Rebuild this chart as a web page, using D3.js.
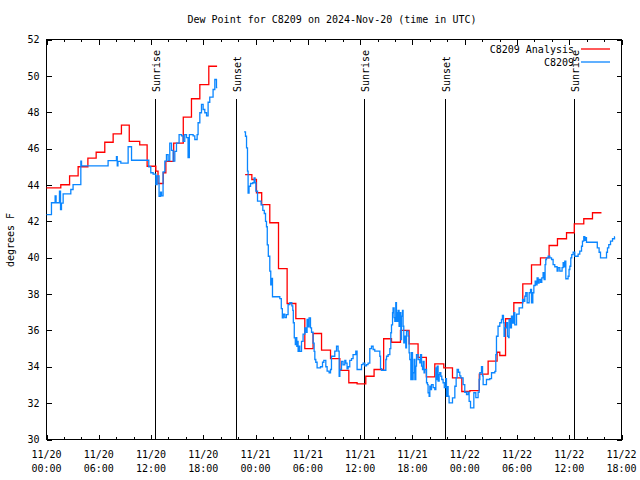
<!DOCTYPE html>
<html><head><meta charset="utf-8">
<script src="https://cdn.jsdelivr.net/npm/d3@7"></script>
<style>
body{margin:0;background:#fff;}
svg text{font-family:"DejaVu Sans Mono",monospace;font-size:10px;fill:#000;}
</style></head><body>
<svg id="c" width="640" height="480"></svg>
<script>
const titleText = "Dew Point for C8209 on 2024-Nov-20 (time in UTC)";
const yLabelText = "degrees F";
const xTickHours = [0,6,12,18,24,30,36,42,48,54,60,66];
const xTickDates = ["11/20","11/20","11/20","11/20","11/21","11/21","11/21","11/21","11/22","11/22","11/22","11/22"];
const xTickTimes = ["00:00","06:00","12:00","18:00","00:00","06:00","12:00","18:00","00:00","06:00","12:00","18:00"];
const xMinorHours = d3.range(0, 67, 2).filter(h => h % 6 !== 0);
const yTicks = [30,32,34,36,38,40,42,44,46,48,50,52];
const sunriseHours = [12.47, 36.5, 60.55];
const sunsetHours = [21.73, 45.77];
const seriesNames = ["C8209 Analysis", "C8209"];
const seriesColors = ["#ff0000", "#0a86ff"];

// [hour since 11/20 00:00 UTC, deg F] ; null = gap
const analysisSeries = [
[0,43.84],[1.64,44.01],[2.65,44.5],[3.63,45.0],[4.75,45.48],[5.7,45.8],[6.69,46.35],[7.65,46.81],[8.6,47.29],
[9.5,46.4],[10.7,46.2],[11.55,45.03],[12.55,44.76],[12.8,44.08],[13.4,44.67],[13.7,45.3],[14.6,46.3],[15.7,47.73],
[16.64,48.74],[17.6,49.52],[18.63,50.53],[19.58,50.53],[19.6,null],
[22.8,44.57],[23.57,44.3],[24.1,43.57],[24.7,42.92],[25.63,41.92],[26.63,39.4],[27.62,37.48],[28.62,36.65],
[29.65,35.0],[30.6,35.83],[31.57,34.92],[32.6,34.45],[33.67,33.8],[34.7,33.12],[35.65,33.06],[36.65,33.48],
[37.6,33.85],[38.7,35.54],[39.6,35.35],[40.63,36.0],[41.62,35.26],[42.65,34.52],[43.6,33.44],[44.57,34.16],
[45.6,33.94],[46.6,33.39],[47.67,32.64],[48.6,32.69],[49.68,33.6],[50.69,34.31],[51.72,34.8],[52.03,34.62],
[52.69,36.64],[53.64,37.52],[54.67,38.56],[55.67,39.6],[56.7,39.99],[57.69,40.67],[58.65,41.04],[59.69,41.37],
[60.58,41.86],[61.67,42.14],[62.67,42.47],[63.7,42.47]
];

const obsSeries = [
[0,42.37],[0.57,43.02],[0.99,43.4],[1.1,43.02],[1.49,43.66],[1.61,42.65],[1.72,43.0],[1.91,43.51],[2.79,43.75],
[3.05,44.02],[3.94,45.31],[4.02,45.05],[7.07,45.34],[8.03,45.55],[8.12,45.05],[8.2,45.3],[8.53,45.2],[9.37,46.1],
[9.76,45.36],[11.74,45.0],[11.97,44.67],[12.24,44.6],[12.55,44.02],[12.7,44.5],[12.92,43.38],[13.09,43.6],[13.2,43.4],
[13.38,44.72],[13.58,45.31],[13.77,45.67],[13.96,45.34],[14.15,46.3],[14.35,45.9],[14.53,45.31],[14.73,45.85],
[14.92,46.3],[15.22,46.77],[15.5,46.7],[15.68,46.4],[15.87,46.77],[16.07,46.6],[16.25,45.5],[16.4,46.77],[16.83,46.7],
[17.02,46.5],[17.29,46.77],[17.4,47.42],[17.6,47.97],[17.79,48.43],[17.98,48.15],[18.17,47.97],[18.37,47.8],
[18.55,48.55],[18.74,48.83],[19.12,49.25],[19.32,49.8],[19.51,49.35],[19.6,49.35],[19.62,null],
[22.68,46.92],[22.84,46.68],[22.96,46.04],[23.07,44.76],[23.14,43.55],[23.25,43.93],[23.42,44.08],[23.68,44.12],
[23.83,44.39],[23.94,44.12],[24.03,43.66],[24.22,43.11],[24.63,42.9],[24.83,42.6],[25.0,42.43],[25.14,42.0],
[25.25,41.7],[25.34,40.7],[25.46,40.08],[25.63,39.26],[25.74,38.5],[25.83,38.86],[25.94,37.85],[26.78,37.75],
[26.95,37.2],[27.07,36.69],[27.18,36.9],[27.35,36.7],[27.53,36.87],[27.73,37.42],[27.93,37.52],[28.16,37.35],
[28.27,37.1],[28.33,36.42],[28.44,35.59],[28.56,35.22],[28.65,35.6],[28.73,35.13],[28.81,35.4],[28.88,34.85],
[29.0,35.13],[29.07,34.85],[29.27,35.4],[29.45,35.8],[29.65,36.14],[29.76,35.9],[29.91,36.6],[30.03,36.2],
[30.14,36.69],[30.3,36.14],[30.42,35.9],[30.6,35.3],[30.72,34.85],[30.8,34.4],[30.91,34.25],[31.06,33.94],
[31.45,34.0],[31.68,34.25],[31.83,34.35],[32.06,34.0],[32.21,33.76],[32.44,33.67],[32.6,33.85],[32.71,34.58],
[33.09,34.86],[33.29,35.13],[33.47,34.86],[33.59,33.48],[33.67,33.85],[33.86,34.3],[34.04,34.1],[34.24,34.35],
[34.36,34.2],[34.5,33.89],[34.62,34.0],[34.81,34.35],[35.01,34.45],[35.19,34.67],[35.5,34.86],[35.65,33.85],
[36.16,34.12],[36.34,34.2],[36.54,34.05],[36.73,34.12],[36.91,34.2],[37.11,35.0],[37.3,35.13],[37.49,34.95],
[37.68,34.86],[38.26,34.58],[38.34,33.9],[38.45,33.81],[38.95,34.4],[39.03,34.58],[39.21,34.67],[39.41,35.0],
[39.52,35.87],[39.6,36.3],[39.72,36.97],[39.78,37.24],[39.9,36.7],[39.98,36.5],[40.09,37.52],[40.17,36.97],
[40.24,36.5],[40.36,37.1],[40.47,36.23],[40.55,36.97],[40.67,35.5],[40.75,36.78],[40.86,37.1],[40.93,36.23],
[41.01,35.32],[41.13,35.69],[41.24,35.04],[41.32,35.96],[41.51,35.69],[41.62,34.77],[41.7,34.4],[41.82,33.3],
[41.9,34.77],[42.01,33.3],[42.08,33.67],[42.2,34.4],[42.28,33.3],[42.39,34.04],[42.47,34.67],[42.65,34.4],
[42.85,34.22],[42.93,34.67],[43.05,34.04],[43.16,33.85],[43.23,34.3],[43.34,33.67],[43.42,33.85],[43.62,33.12],
[43.73,33.02],[43.8,32.57],[43.92,32.38],[44.0,32.94],[44.11,32.75],[44.19,33.02],[44.38,32.85],[44.57,32.75],
[44.69,33.94],[44.77,33.3],[44.84,34.04],[44.95,33.21],[45.07,33.57],[45.14,33.67],[45.26,33.48],[45.37,33.3],
[45.52,33.12],[45.66,32.85],[45.83,33.34],[45.91,32.38],[46.0,32.9],[46.1,32.38],[46.21,32.01],[46.6,32.29],
[46.87,32.93],[47.02,33.4],[47.13,33.85],[47.29,33.7],[47.44,33.5],[47.56,33.39],[47.82,33.02],[48.01,32.6],
[48.21,32.47],[48.39,32.6],[48.51,32.1],[48.67,31.74],[49.05,32.57],[49.28,32.3],[49.54,32.6],[49.66,33.3],
[49.74,33.67],[49.93,34.0],[50.05,33.5],[50.12,33.02],[50.5,33.3],[50.88,33.35],[51.08,33.67],[51.46,33.75],
[51.57,34.67],[51.65,35.68],[51.83,36.23],[52.03,36.42],[52.22,36.6],[52.33,36.82],[52.45,36.42],[52.52,35.68],
[52.61,36.14],[52.8,36.42],[52.92,35.68],[53.03,35.6],[53.1,36.6],[53.26,36.14],[53.37,36.78],[53.49,36.4],
[53.64,36.97],[53.75,36.3],[53.95,36.9],[54.25,37.24],[54.64,37.7],[54.79,37.6],[54.9,37.88],[55.01,38.07],
[55.17,37.52],[55.4,38.07],[55.56,38.25],[55.67,37.52],[55.82,38.07],[55.94,38.47],[56.09,38.71],[56.2,38.5],
[56.31,38.89],[56.43,38.6],[56.54,38.8],[56.7,38.65],[56.85,38.89],[57.0,39.17],[57.12,38.8],[57.23,39.62],
[57.31,39.9],[57.39,39.99],[57.58,40.08],[57.77,39.99],[57.97,39.9],[58.15,39.62],[58.34,39.5],[58.61,39.26],
[58.72,39.45],[58.92,39.26],[59.18,39.45],[59.3,39.72],[59.41,39.5],[59.49,39.81],[59.61,38.84],[59.87,38.98],
[59.98,39.35],[60.07,39.53],[60.18,39.99],[60.29,40.17],[60.45,40.3],[60.64,40.08],[61.02,40.2],[61.21,40.36],
[61.41,40.63],[61.52,40.91],[61.67,41.15],[61.79,40.95],[61.9,41.1],[61.98,40.85],[63.13,40.85],[63.22,40.54],
[63.43,40.3],[63.59,39.99],[64.28,40.3],[64.39,40.54],[64.54,40.72],[64.74,40.91],[64.97,41.04],[65.2,41.15],[65.22,41.15]
];

const W = 640, H = 480;
const L = 46.5, R = 621.5, T = 39.5, B = 439.5;
const svg = d3.select("#c");
svg.append("rect").attr("width", W).attr("height", H).attr("fill", "#fff");

const x = d3.scaleLinear().domain([0, 66]).range([L, R]);
const y = d3.scaleLinear().domain([30, 52]).range([B, T]);

// title
svg.append("text").attr("x", 332).attr("y", 23).attr("text-anchor", "middle").text(titleText);
// y label
svg.append("text").attr("transform", "translate(14,240) rotate(-90)").attr("text-anchor", "middle").text(yLabelText);

// axes
function styleAxis(g) {
  g.select(".domain").remove();
  g.selectAll(".tick line").attr("stroke", "#000").attr("shape-rendering", "crispEdges");
  g.selectAll("text").attr("font-family", null).attr("font-size", null);
}
svg.append("g").attr("transform", `translate(0,${B})`)
  .call(d3.axisBottom(x).tickValues(xTickHours).tickSize(-5).tickFormat(() => "")).call(styleAxis);
svg.append("g").attr("transform", `translate(0,${B})`)
  .call(d3.axisBottom(x).tickValues(xMinorHours).tickSize(-2.5).tickFormat(() => "")).call(styleAxis);
svg.append("g").attr("transform", `translate(0,${T})`)
  .call(d3.axisTop(x).tickValues(xTickHours).tickSize(-5).tickFormat(() => "")).call(styleAxis);
svg.append("g").attr("transform", `translate(0,${T})`)
  .call(d3.axisTop(x).tickValues(xMinorHours).tickSize(-2.5).tickFormat(() => "")).call(styleAxis);
svg.append("g").attr("transform", `translate(${L},0)`)
  .call(d3.axisLeft(y).tickValues(yTicks).tickSize(-5).tickPadding(7).tickFormat(d3.format("d"))).call(styleAxis);
svg.append("g").attr("transform", `translate(${R},0)`)
  .call(d3.axisRight(y).tickValues(yTicks).tickSize(-5).tickFormat(() => "")).call(styleAxis);

// x tick labels (two lines)
const xl = svg.append("g");
xTickHours.forEach((h, i) => {
  xl.append("text").attr("x", x(h)).attr("y", 458).attr("text-anchor", "middle").text(xTickDates[i]);
  xl.append("text").attr("x", x(h)).attr("y", 472).attr("text-anchor", "middle").text(xTickTimes[i]);
});

// border
svg.append("rect").attr("x", L).attr("y", T).attr("width", R - L).attr("height", B - T)
  .attr("fill", "none").attr("stroke", "#000").attr("shape-rendering", "crispEdges");

// sunrise / sunset
const events = sunriseHours.map(h => ({h, label: "Sunrise"})).concat(sunsetHours.map(h => ({h, label: "Sunset"})));
events.forEach(e => {
  const px = Math.round(x(e.h)) + 0.5;
  svg.append("line").attr("x1", px).attr("x2", px).attr("y1", 99).attr("y2", B)
    .attr("stroke", "#000").attr("shape-rendering", "crispEdges");
  svg.append("text").attr("transform", `translate(${px + 4.5},92) rotate(-90)`).attr("text-anchor", "start").text(e.label);
});

// series
const line = d3.line().defined(d => d[1] !== null).x(d => x(d[0])).y(d => y(d[1])).curve(d3.curveStepAfter);
svg.append("path").datum(analysisSeries).attr("d", line).attr("fill", "none")
  .attr("stroke", seriesColors[0]).attr("stroke-width", 1.3);
svg.append("path").datum(obsSeries).attr("d", line).attr("fill", "none")
  .attr("stroke", seriesColors[1]).attr("stroke-width", 1.3);

// legend
seriesNames.forEach((n, i) => {
  const ly = 49 + i * 13;
  svg.append("text").attr("x", 574).attr("y", ly + 3.5).attr("text-anchor", "end").text(n);
  svg.append("line").attr("x1", 581).attr("x2", 610).attr("y1", ly).attr("y2", ly)
    .attr("stroke", seriesColors[i]).attr("stroke-width", 1.3);
});
</script>
</body></html>
